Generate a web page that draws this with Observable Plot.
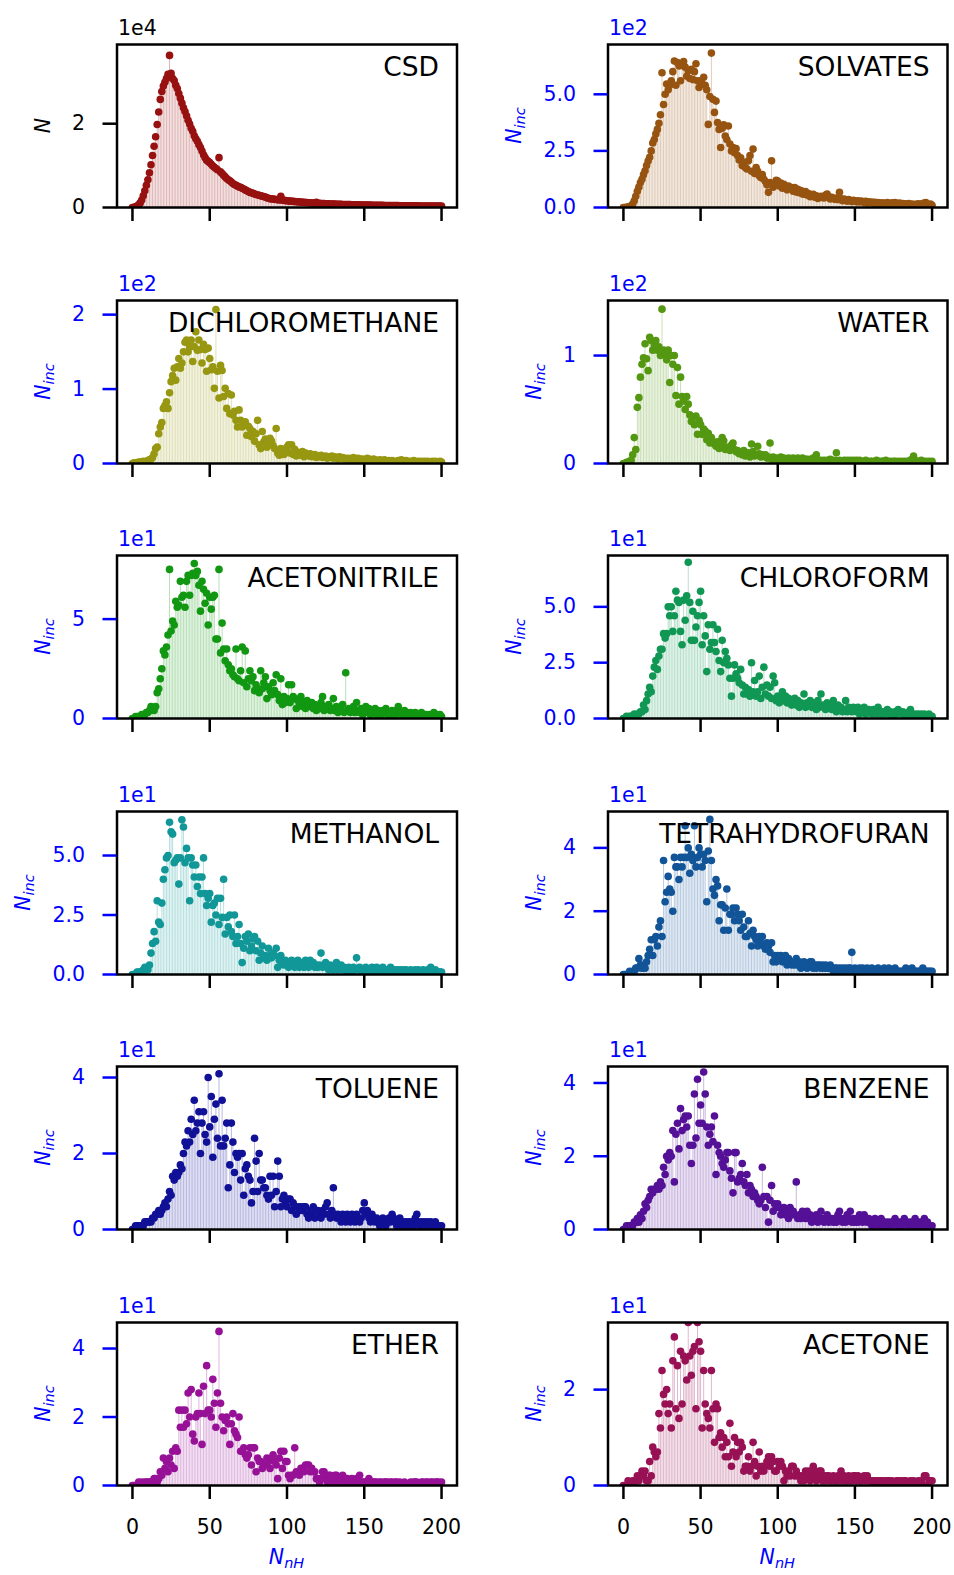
<!DOCTYPE html>
<html><head><meta charset="utf-8">
<script src="https://cdn.jsdelivr.net/npm/d3@7"></script>
<script src="https://cdn.jsdelivr.net/npm/@observablehq/plot@0.6"></script>
<style>
body{margin:0;background:#fff;}
#wrap{position:relative;width:954px;height:1575px;overflow:hidden;font-family:"DejaVu Sans";}
#wrap svg{position:absolute;overflow:visible;}
</style></head><body><div id="wrap"></div>
<script>
const names = ["CSD","SOLVATES","DICHLOROMETHANE","WATER","ACETONITRILE","CHLOROFORM","METHANOL","TETRAHYDROFURAN","TOLUENE","BENZENE","ETHER","ACETONE"];
const nH = Array.from({length: 201}, (_, i) => i);

const csd = [0,60,180,350,650,1100,1800,2800,4000,5300,
6600,8300,10200,12400,14600,16900,19800,22800,25800,27700,
29000,29900,30800,31800,36300,32000,30800,30300,29200,28400,
27200,26100,24900,23800,22900,21900,20800,19900,18900,18200,
17100,16400,15800,15000,14300,13500,12600,11900,11300,11000,
10700,10300,9900,9600,9300,9000,11900,8500,8100,7700,
7300,6900,6600,6400,6100,5700,5500,5300,5100,4900,
4800,4600,4400,4200,4000,3800,3600,3500,3400,3200,
3100,3000,2900,2800,2700,2600,2500,2300,2200,2100,
2050,2000,1950,1900,1850,1800,2700,1750,1700,1650,
1600,1560,1520,1480,1450,1420,1380,1350,1320,1290,
1260,1230,1200,1170,1140,1110,1080,1060,1040,1250,
1000,980,960,940,920,900,880,860,850,830,
820,800,790,770,760,750,730,720,710,700,
690,680,670,660,650,640,630,620,610,600,
590,580,575,565,560,550,545,535,530,520,
515,505,500,495,485,480,475,470,460,455,
450,445,440,435,430,425,420,415,410,405,
400,395,390,388,380,377,372,368,365,360,
356,352,348,345,340,337,333,330,326,323,
320];

const solvates = [0,0,1,2,4,8,15,30,50,72,
90,110,125,145,162,185,205,222,250,285,
300,325,345,372,410,595,455,500,545,520,
540,560,600,647,540,640,625,560,630,645,
620,580,604,570,610,565,600,635,560,530,
560,545,575,540,520,367,490,682,478,420,
470,375,345,265,350,365,316,300,360,280,
250,265,242,260,230,210,220,185,200,177,
170,206,230,160,258,150,177,160,140,132,
145,125,115,100,67,110,206,90,105,120,
117,95,108,85,102,90,78,95,85,88,
72,88,68,80,65,75,60,59,70,55,
62,48,51,58,45,52,40,46,50,44,
42,55,59,48,38,45,40,36,42,35,
67,38,30,37,34,28,35,30,26,32,
28,25,30,24,29,26,22,27,20,25,
21,24,19,23,18,22,20,17,21,16,
19,22,15,18,21,16,22,14,18,20,
15,17,13,16,14,18,12,15,11,14,
13,16,12,15,18,20,22,14,12,15,
10];

const dichloromethane = [0,1,1,1,2,2,2,3,2,3,
4,5,6,8,13,20,22,40,49,55,
74,78,83,74,95,110,118,128,112,130,
141,128,135,150,163,166,150,157,166,137,
157,177,152,166,153,135,160,153,124,155,
141,126,130,101,207,124,88,132,125,90,
101,74,94,67,92,65,70,58,49,72,
58,49,54,56,38,50,47,36,43,30,
40,58,25,20,43,29,33,22,26,34,
30,24,20,47,14,11,20,15,12,18,
22,25,14,25,12,19,10,15,13,11,
16,9,14,12,10,13,9,11,12,8,
10,9,11,8,9,10,7,9,8,10,
7,9,8,6,9,7,8,6,7,6,
7,5,6,8,6,5,7,6,5,6,
4,5,7,6,5,4,6,5,3,4,
5,4,3,5,4,3,4,3,4,3,
2,3,4,3,5,3,2,4,3,2,
3,2,4,3,2,3,2,3,2,3,
2,3,2,2,3,2,3,2,2,3,
2];

const water = [0,0,1,1,2,3,8,24,13,52,
61,80,92,98,111,97,86,117,114,105,
110,114,105,108,100,143,105,101,96,105,
75,100,92,100,63,89,55,80,62,58,
50,62,55,45,39,43,36,44,27,40,
36,27,32,30,22,28,19,24,20,18,
16,20,14,18,24,21,13,15,15,12,
17,19,13,11,12,9,10,8,12,7,
9,10,6,18,11,7,8,16,9,6,
8,7,8,5,6,19,4,6,5,4,
5,4,6,3,5,4,3,5,4,4,
5,3,4,5,3,4,5,3,4,4,
3,4,3,5,4,8,3,2,3,2,
3,2,3,2,4,3,2,3,10,2,
3,2,2,3,2,3,2,3,2,3,
2,3,2,3,2,1,2,3,2,1,
2,2,1,2,3,2,1,2,2,1,
3,2,1,2,1,2,2,1,2,1,
2,1,2,1,2,1,3,4,7,3,
2,1,2,3,2,1,2,1,2,1,
2];

const acetonitrile = [0,0,1,1,1,1,2,2,2,3,
3,4,6,5,4,6,13,15,20,25,
34,32,36,42,75,44,49,47,59,56,
57,69,61,62,56,69,72,62,72,73,
78,72,74,67,54,69,65,58,63,47,
61,55,61,62,40,40,75,33,48,35,
29,35,27,24,25,22,21,35,20,19,
24,36,18,34,16,20,24,19,21,14,
17,15,13,24,15,18,21,10,16,14,
12,18,14,22,12,9,20,7,11,8,
10,17,8,17,11,10,5,9,7,11,
6,8,5,9,7,6,8,5,7,4,
6,5,8,11,4,6,5,7,4,5,
10,4,6,3,5,4,7,3,23,4,
5,3,4,6,3,8,4,3,5,2,
4,6,3,5,2,4,3,5,2,4,
3,2,4,3,5,2,3,2,4,3,
2,4,6,3,2,3,4,2,3,2,
3,2,1,3,2,1,2,3,1,2,
2,1,2,1,2,3,1,2,1,2,
1];

const chloroform = [0,0,1,0,1,1,1,2,1,2,
2,3,3,6,4,8,11,14,12,19,
23,26,22,28,31,31,38,36,38,50,
46,50,39,46,57,53,52,39,33,53,
44,55,70,52,35,48,35,41,46,52,
57,33,46,37,21,42,31,34,42,34,
30,40,26,21,35,25,30,27,24,18,
10,18,24,20,18,16,22,15,11,14,
11,13,10,25,12,17,10,12,19,9,
14,23,11,15,10,14,9,19,16,8,
10,7,9,12,8,10,7,9,8,6,
7,9,6,8,5,7,6,11,5,7,
6,8,5,7,6,4,8,5,11,6,
5,4,7,5,6,4,8,5,3,6,
4,5,3,4,8,3,5,4,3,5,
4,3,5,2,4,3,5,2,3,4,
3,2,4,3,2,5,3,2,3,2,
3,4,2,3,2,1,3,2,4,3,
2,3,2,1,2,3,4,2,1,2,
1,2,1,2,1,2,1,1,2,1,
1];

const methanol = [0,0,0,1,1,1,1,2,3,2,
2,4,9,13,18,14,31,22,21,30,
40,44,49,50,64,60,59,47,48,49,
38,49,65,62,47,53,49,31,49,46,
41,46,37,41,34,41,49,34,29,32,
34,22,29,30,25,32,21,32,24,40,
17,24,20,25,18,16,25,13,16,21,
13,5,11,16,14,17,10,12,15,16,
10,14,6,9,12,7,8,6,11,8,
7,9,8,11,3,6,8,5,4,6,
5,3,4,6,5,3,4,6,3,4,
5,3,6,4,3,6,4,5,3,4,
3,4,9,3,4,5,3,2,4,3,
2,3,5,2,3,4,2,3,2,1,
3,2,1,3,2,7,2,3,2,1,
2,3,2,1,2,3,1,2,3,2,
1,2,3,1,2,1,2,3,1,2,
1,2,1,2,1,2,1,2,1,1,
2,1,1,2,1,2,1,1,2,1,
1,2,1,3,1,1,2,1,1,1,
1];

const tetrahydrofuran = [0,0,0,0,1,0,1,1,2,2,
5,3,2,3,2,4,6,8,11,6,
11,12,9,15,17,12,36,23,26,31,
27,26,20,37,34,34,30,37,34,37,
47,37,40,32,38,36,47,34,37,40,
38,34,38,36,23,39,49,36,27,25,
30,28,17,22,22,14,21,27,14,19,
19,21,17,21,19,17,14,19,15,12,
12,17,13,9,14,12,11,9,12,10,
12,9,8,10,9,7,10,4,6,4,
6,5,6,4,5,6,3,5,4,3,
4,3,5,3,4,2,3,4,3,2,
3,4,4,2,3,2,3,3,2,3,
2,3,2,2,3,2,1,2,2,1,
2,1,2,1,2,1,2,2,7,1,
2,1,1,2,1,2,1,1,2,1,
1,2,1,1,1,2,1,1,1,2,
1,1,2,1,1,1,2,1,1,1,
1,1,1,2,1,1,1,2,1,1,
1,1,1,1,2,1,1,1,1,1,
1];

const toluene = [0,0,1,1,1,1,1,1,2,2,
2,2,2,3,3,4,4,5,4,5,
6,7,6,8,10,9,14,13,15,14,
15,17,16,20,23,22,26,23,29,25,
34,26,28,31,20,28,31,25,23,40,
27,35,19,29,33,24,41,22,34,22,
24,28,11,17,28,23,15,20,19,20,
13,20,9,16,17,14,13,7,10,24,
18,10,20,13,13,11,11,9,8,14,
9,14,6,10,18,14,6,8,9,7,
6,8,8,5,7,6,4,6,5,6,
5,6,6,4,3,5,4,6,3,5,
5,4,3,5,4,6,7,4,3,5,
11,4,3,4,3,2,4,3,2,4,
3,2,4,3,2,4,3,2,3,5,
7,4,5,3,2,4,3,2,3,2,
1,2,3,2,1,2,3,2,4,3,
2,1,2,3,1,2,1,2,1,2,
1,2,1,3,4,2,1,2,1,2,
1,2,1,2,1,1,2,1,1,1,
1];

const benzene = [0,0,1,1,1,1,1,2,2,3,
2,4,3,5,7,6,8,9,11,10,
11,11,12,11,13,12,17,15,20,19,
21,20,27,13,26,29,22,33,27,30,
31,28,31,23,18,23,37,25,41,29,
34,29,43,37,28,23,26,28,24,31,
15,23,21,20,18,17,19,21,21,16,
14,10,21,21,13,14,15,18,13,12,
15,10,12,11,9,10,9,8,7,8,
17,9,6,9,2,8,12,5,7,6,
7,6,4,5,6,4,5,3,6,4,
5,4,13,3,4,3,5,4,3,5,
3,4,2,3,3,4,2,3,5,3,
2,3,4,2,3,3,2,3,2,4,
5,3,2,3,2,4,3,5,2,3,
2,3,2,4,3,2,4,3,2,3,
2,1,2,3,2,1,2,3,1,2,
1,2,1,2,1,2,3,2,1,2,
1,2,3,2,1,2,1,2,1,3,
2,1,2,1,2,3,1,2,1,1,
1];

const ether = [0,0,0,0,1,0,1,0,1,1,
1,1,1,1,2,2,1,2,4,3,
8,5,7,4,8,6,10,5,11,10,
22,17,22,17,22,18,27,20,28,15,
13,20,21,27,21,12,29,21,35,22,
22,20,31,24,17,27,45,24,20,16,
19,20,18,12,18,21,16,15,14,20,
10,10,11,9,8,9,11,6,11,11,
4,8,7,7,5,6,6,8,7,5,
8,9,7,6,2,8,10,5,10,7,
7,3,2,3,3,11,4,4,3,5,
5,4,6,6,6,4,5,4,4,2,
2,1,2,4,4,2,1,3,3,2,
1,3,3,2,1,2,3,1,2,2,
1,1,2,1,1,2,1,3,1,1,
1,1,1,2,1,1,1,1,1,0,
1,1,0,1,1,1,0,1,1,0,
1,1,0,1,0,0,1,0,0,0,
1,0,1,1,1,0,0,1,1,0,
1,1,0,1,1,0,1,1,1,0,
1];

const acetone = [0,0,0,1,0,0,1,0,1,2,
1,2,3,2,3,1,1,5,2,8,
7,6,7,15,12,24,19,17,20,15,
17,12,26,31,16,25,14,28,17,27,
26,22,34,27,23,28,29,16,34,30,
28,12,24,17,15,14,12,24,16,9,
17,16,10,11,8,10,6,9,6,13,
4,7,10,6,9,7,9,8,3,4,
4,6,3,4,9,5,2,4,7,3,
4,3,4,5,6,4,6,5,3,3,
5,4,5,4,1,3,2,3,2,4,
4,2,3,2,2,1,2,1,3,2,
3,1,2,4,3,1,2,3,3,1,
2,1,2,2,1,1,2,1,1,2,
1,3,1,2,1,1,2,1,1,2,
2,1,2,1,1,1,2,1,2,1,
1,1,0,1,1,0,1,1,0,1,
0,1,1,0,1,0,0,1,1,0,
1,0,1,1,0,0,1,0,1,0,
0,1,0,1,0,2,2,0,1,1,
1];

const series = [csd, solvates, dichloromethane, water, acetonitrile, chloroform, methanol, tetrahydrofuran, toluene, benzene, ether, acetone];
const yMax = [38900, 720, 219, 151, 82, 73, 68.5, 51.5, 42.9, 44.5, 47.6, 34];
const yTicks = [[0,20000],[0,250,500],[0,100,200],[0,100],[0,50],[0,25,50],[0,25,50],[0,20,40],[0,20,40],[0,20,40],[0,20,40],[0,20]];
const yTickLabels = [["0","2"],["0.0","2.5","5.0"],["0","1","2"],["0","1"],["0","5"],["0.0","2.5","5.0"],["0.0","2.5","5.0"],["0","2","4"],["0","2","4"],["0","2","4"],["0","2","4"],["0","2"]];
const offsets = ["1e4","1e2","1e2","1e2","1e1","1e1","1e1","1e1","1e1","1e1","1e1","1e1"];
const xTicks = [0, 50, 100, 150, 200];
const xTickLabels = ["0","50","100","150","200"];
const yLabelMain = ["N","N","N","N","N","N","N","N","N","N","N","N"];
const yLabelSub = ["","inc","inc","inc","inc","inc","inc","inc","inc","inc","inc","inc"];
const xLabelMain = "N", xLabelSub = "nH";

series.forEach((s, i) => { if (s.length !== 201) console.error(names[i] + " length " + s.length); });

const wrap = document.getElementById("wrap");
const FONT = "DejaVu Sans";
const TICKFS = 20.5;
const frameLeftAbs = [116.5, 607.5];
const frameRightAbs = [456.5, 947];

names.forEach((name, i) => {
  const col = i % 2, row = Math.floor(i / 2);
  const last = row === 5;
  const left = col * 477;
  const top = Math.round(row * 255.5);
  const width = 477;
  const height = last ? 1575 - top : 255;
  const mTop = 44, plotH = 163;
  const mLeft = frameLeftAbs[col] - left;
  const mRight = left + width - frameRightAbs[col];
  const mBottom = height - mTop - plotH;
  const color = d3.hsl(i * 30, 0.8, 0.33).formatHex();
  const axisColor = i === 0 ? "black" : "blue";
  const data = nH.map((x, k) => ({x, y: series[i][k]}));
  const ticks = yTicks[i];
  const labs = yTickLabels[i];

  const plot = Plot.plot({
    width, height,
    marginLeft: mLeft, marginRight: mRight, marginTop: mTop, marginBottom: mBottom,
    style: {fontFamily: FONT, fontSize: TICKFS + "px", background: "transparent", overflow: "visible"},
    x: {domain: [-10, 210]},
    y: {domain: [0, yMax[i]]},
    marks: [
      Plot.ruleX(data, {x: "x", y1: 0, y2: "y", stroke: color, strokeOpacity: 0.3, strokeWidth: 1, clip: true}),
      Plot.dot(data, {x: "x", y: "y", r: 3.8, fill: color, stroke: "none", clip: true}),
      Plot.frame({stroke: "black", strokeWidth: 2.5}),
      Plot.axisY({ticks, tickFormat: d => labs[ticks.indexOf(d)], tickSize: 14, tickPadding: 18,
        stroke: axisColor, fill: axisColor, strokeWidth: 2.5, label: null, fontSize: TICKFS}),
      Plot.axisX({ticks: xTicks, tickFormat: d => last ? xTickLabels[xTicks.indexOf(d)] : "",
        tickSize: 14, tickPadding: 20, stroke: "black", fill: "black", strokeWidth: 2.5, label: null, fontSize: TICKFS}),
      Plot.text([offsets[i]], {frameAnchor: "top-left", textAnchor: "start", lineAnchor: "top", dx: 1, dy: -24,
        fill: axisColor, fontSize: TICKFS}),
      Plot.text([name], {frameAnchor: "top-right", textAnchor: "end", lineAnchor: "top", dx: -18, dy: 13,
        fill: "black", fontSize: 26.5})
    ]
  });
  plot.style.left = left + "px";
  plot.style.top = top + "px";
  wrap.appendChild(plot);

  const svg = d3.select(plot);
  const maxLen = d3.max(labs, l => l.length);
  const w = maxLen === 1 ? 13 : 32.6;
  const cx = mLeft - 32 - w - 22;
  const cy = mTop + plotH / 2;
  const t = svg.append("text")
    .attr("transform", `translate(${cx},${cy}) rotate(-90)`)
    .attr("text-anchor", "middle")
    .attr("fill", axisColor)
    .style("font-family", FONT).style("font-size", TICKFS + "px");
  t.append("tspan").attr("font-style", "italic").text(yLabelMain[i]);
  if (yLabelSub[i]) t.append("tspan").attr("font-style", "italic").attr("font-size", "14.5px").attr("dy", 4).text(yLabelSub[i]);

  if (last) {
    const xl = svg.append("text")
      .attr("x", mLeft + (frameRightAbs[col] - frameLeftAbs[col]) / 2)
      .attr("y", mTop + plotH + 79)
      .attr("text-anchor", "middle")
      .attr("fill", "blue")
      .style("font-family", FONT).style("font-size", TICKFS + "px");
    xl.append("tspan").attr("font-style", "italic").text(xLabelMain);
    xl.append("tspan").attr("font-style", "italic").attr("font-size", "14.5px").attr("dy", 4).text(xLabelSub);
  }
});
</script></body></html>
